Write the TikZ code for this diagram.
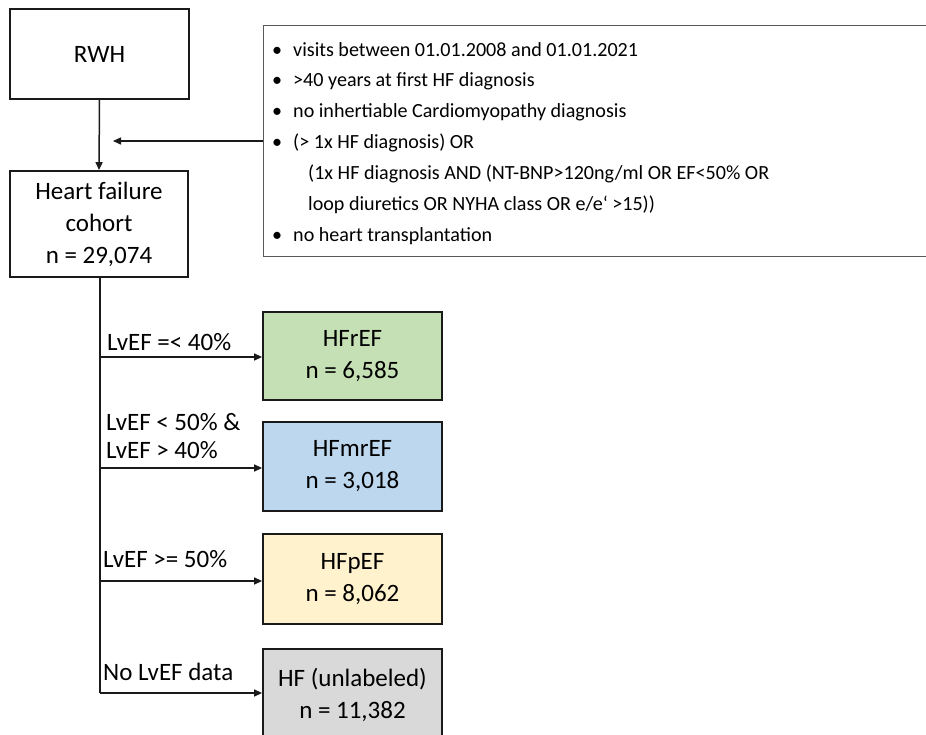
\documentclass[tikz,border=0pt]{standalone}
\usepackage{fontspec}
\setmainfont{Carlito}
\usetikzlibrary{arrows.meta}
\definecolor{gfill}{HTML}{C5E0B4}
\definecolor{bfill}{HTML}{BDD7EE}
\definecolor{yfill}{HTML}{FFF2CC}
\definecolor{hfill}{HTML}{D9D9D9}
\definecolor{edge}{HTML}{1A1A1A}
\definecolor{critedge}{HTML}{595959}
\begin{document}
\begin{tikzpicture}[x=1pt,y=-1pt,
  every node/.style={font=\fontsize{25}{32}\selectfont},
  flowbox/.style={draw=edge,line width=1.8pt,inner sep=0pt,align=center},
  conn/.style={draw=edge,line width=1.5pt},
  arr/.style={conn,-{Triangle[length=8pt,width=7pt]}},
  lbl/.style={anchor=base west,inner sep=0pt},
  crit/.style={anchor=base west,inner sep=0pt,font=\fontsize{20.1}{31}\selectfont}]
\useasboundingbox (0,0) rectangle (926,734);
\clip (0,0) rectangle (926,734);
% criteria box
\node[draw=critedge,line width=1.1pt,anchor=north west,minimum width=700pt,minimum height=231pt,inner sep=0pt] (critbox) at (263,25) {};
\node[crit] (b1) at (272,56) {•};
\node[crit] (t1) at (293,56) {visits between 01.01.2008 and 01.01.2021};
\node[crit] (b2) at (272,86.5) {•};
\node[crit] (t2) at (293,86.5) {>40 years at first HF diagnosis};
\node[crit] (b3) at (272,117) {•};
\node[crit] (t3) at (293,117) {no inhertiable Cardiomyopathy diagnosis};
\node[crit] (b4) at (272,148) {•};
\node[crit] (t4) at (293,148) {(> 1x HF diagnosis) OR};
\node[crit] (t5) at (308,179) {(1x HF diagnosis AND (NT-BNP>120ng/ml OR EF<50\% OR};
\node[crit] (t6) at (308,210) {loop diuretics OR NYHA class OR e/e‘ >15))};
\node[crit] (b7) at (272,241) {•};
\node[crit] (t7) at (293,241) {no heart transplantation};
% main boxes
\node[flowbox,minimum width=179pt,minimum height=90pt] (rwh) at (99.5,54) {RWH};
\node[flowbox,minimum width=178pt,minimum height=106pt] (hf) at (99,224) {Heart failure\\cohort\\n = 29,074};
\node[flowbox,fill=gfill,minimum width=179pt,minimum height=88pt] (hfr) at (352.5,356) {HFrEF\\n = 6,585};
\node[flowbox,fill=bfill,minimum width=179pt,minimum height=89pt] (hfmr) at (352.5,466.5) {HFmrEF\\n = 3,018};
\node[flowbox,fill=yfill,minimum width=179pt,minimum height=90pt] (hfp) at (352.5,579) {HFpEF\\n = 8,062};
\node[flowbox,fill=hfill,minimum width=179pt,minimum height=92pt] (hfu) at (352.5,695) {HF (unlabeled)\\n = 11,382};
% connectors
\draw[arr] (rwh.south) -- (hf.north);
\coordinate (critend) at (113,141);
\draw[arr] (critbox.west |- critend) -- (critend);
\coordinate (trunkend) at (100,693);
\draw[conn] (hf.south -| trunkend) -- (trunkend);
\draw[arr] (100,357) -- (hfr.west |- 0,357);
\draw[arr] (100,468) -- (hfmr.west |- 0,468);
\draw[arr] (100,581) -- (hfp.west |- 0,581);
\draw[arr] (trunkend) -- (hfu.west |- trunkend);
% branch labels
\node[lbl] (l1) at (107,350) {LvEF =< 40\%};
\node[lbl] (l2a) at (106,430) {LvEF < 50\% \&};
\node[lbl] (l2b) at (106,458) {LvEF > 40\%};
\node[lbl] (l3) at (103,567) {LvEF >= 50\%};
\node[lbl] (l4) at (103,680) {No LvEF data};
\end{tikzpicture}
\end{document}
